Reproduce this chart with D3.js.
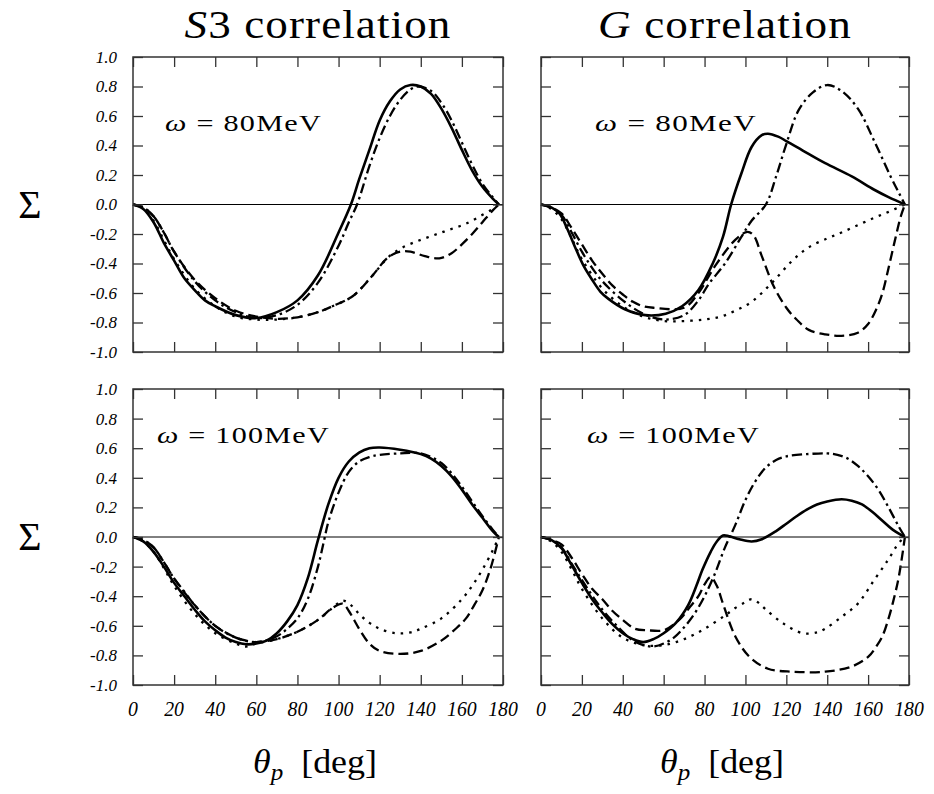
<!DOCTYPE html>
<html>
<head>
<meta charset="utf-8">
<script src="https://cdn.jsdelivr.net/npm/d3@7"></script>
<style>
  body { margin: 0; background: #fff; }
  svg { display: block; }
</style>
</head>
<body>
<div class="chart"></div>
<script>
// ---- data (theta in deg, Sigma) ----
var thetaTicks = [0, 20, 40, 60, 80, 100, 120, 140, 160, 180];
var sigmaTicks = [1.0, 0.8, 0.6, 0.4, 0.2, 0.0, -0.2, -0.4, -0.6, -0.8, -1.0];
var sigmaTickLabels = ["1.0", "0.8", "0.6", "0.4", "0.2", "0.0", "-0.2", "-0.4", "-0.6", "-0.8", "-1.0"];
var columnTitles = ["S3", "G"];
var energies = ["80", "100"];

// S3 correlation, 80 MeV
var s3_80_solid = [[0,0],[5,-0.03],[10,-0.12],[15,-0.26],[20,-0.38],[25,-0.50],[30,-0.58],[35,-0.65],[40,-0.69],[50,-0.75],[60,-0.77],[70,-0.73],[80,-0.65],[90,-0.48],[100,-0.19],[106,0],[110,0.17],[115,0.37],[120,0.57],[125,0.70],[130,0.78],[135,0.81],[140,0.80],[145,0.75],[150,0.65],[155,0.52],[160,0.37],[165,0.23],[170,0.12],[175,0.04],[178,0]];
var s3_80_dashed = [[0,0],[5,-0.02],[10,-0.08],[15,-0.19],[20,-0.32],[30,-0.51],[40,-0.635],[50,-0.72],[60,-0.76],[70,-0.775],[80,-0.765],[90,-0.73],[97,-0.69],[107,-0.62],[116,-0.49],[124,-0.36],[130,-0.32],[135,-0.32],[142,-0.35],[149,-0.365],[155,-0.33],[160,-0.27],[165,-0.20],[170,-0.12],[175,-0.04],[178,0]];
var s3_80_dashdot = [[0,0],[5,-0.02],[10,-0.08],[15,-0.19],[20,-0.32],[30,-0.52],[40,-0.65],[50,-0.73],[60,-0.77],[70,-0.75],[80,-0.68],[90,-0.53],[100,-0.28],[105,-0.12],[109,0],[115,0.26],[120,0.45],[125,0.60],[130,0.71],[135,0.78],[139,0.80],[145,0.77],[150,0.69],[155,0.57],[160,0.42],[165,0.27],[170,0.14],[175,0.05],[178,0]];
var s3_80_dotted = [[0,0],[5,-0.03],[10,-0.11],[15,-0.24],[20,-0.37],[30,-0.57],[40,-0.69],[50,-0.76],[60,-0.78],[70,-0.78],[80,-0.765],[90,-0.73],[97,-0.69],[107,-0.62],[116,-0.49],[124,-0.36],[130,-0.30],[138,-0.25],[146,-0.21],[154,-0.17],[162,-0.13],[170,-0.07],[175,-0.03],[178,0]];

// G correlation, 80 MeV
var g_80_solid = [[0,0],[5,-0.02],[9,-0.06],[13,-0.17],[17,-0.30],[21,-0.42],[25,-0.51],[29,-0.59],[33,-0.64],[41,-0.71],[51,-0.75],[61,-0.74],[69,-0.69],[77,-0.58],[84,-0.40],[89,-0.22],[93,0],[98,0.21],[103,0.39],[108,0.47],[111,0.48],[116,0.46],[120,0.43],[130,0.35],[139,0.28],[152,0.19],[163,0.10],[170,0.05],[178,0]];
var g_80_dashed = [[0,0],[5,-0.02],[10,-0.06],[15,-0.16],[20,-0.27],[25,-0.38],[30,-0.47],[35,-0.55],[40,-0.61],[45,-0.66],[50,-0.69],[55,-0.70],[70,-0.70],[77,-0.60],[85,-0.42],[95,-0.24],[101,-0.185],[104,-0.21],[108,-0.35],[114,-0.56],[120,-0.70],[125,-0.78],[131,-0.85],[139,-0.88],[147,-0.89],[155,-0.87],[160,-0.81],[164,-0.71],[167,-0.60],[170,-0.43],[173,-0.25],[176,-0.08],[178,0]];
var g_80_dashdot = [[0,0],[5,-0.02],[10,-0.07],[15,-0.19],[20,-0.32],[25,-0.43],[30,-0.52],[40,-0.65],[50,-0.74],[60,-0.78],[70,-0.75],[77,-0.65],[82,-0.54],[90,-0.40],[98,-0.22],[103,-0.11],[110,0],[115,0.19],[120,0.41],[126,0.64],[133,0.76],[140,0.81],[147,0.77],[155,0.65],[163,0.43],[171,0.19],[175,0.08],[178,0]];
var g_80_dotted = [[0,0],[5,-0.03],[10,-0.10],[15,-0.23],[20,-0.37],[30,-0.57],[40,-0.69],[50,-0.76],[60,-0.79],[70,-0.79],[80,-0.78],[88,-0.76],[95,-0.72],[103,-0.66],[113,-0.53],[123,-0.38],[131,-0.29],[140,-0.23],[147,-0.19],[155,-0.14],[163,-0.09],[170,-0.05],[178,0]];

// S3 correlation, 100 MeV
var s3_100_solid = [[0,0],[5,-0.03],[10,-0.10],[15,-0.20],[20,-0.31],[25,-0.40],[30,-0.49],[35,-0.57],[40,-0.63],[45,-0.68],[50,-0.71],[55,-0.725],[60,-0.72],[65,-0.70],[70,-0.65],[75,-0.57],[80,-0.46],[85,-0.28],[90,-0.02],[95,0.22],[100,0.40],[105,0.51],[110,0.57],[115,0.60],[120,0.605],[130,0.59],[140,0.56],[145,0.53],[150,0.48],[155,0.41],[160,0.32],[165,0.22],[170,0.13],[175,0.04],[178,0]];
var s3_100_dashed = [[0,0],[5,-0.02],[10,-0.07],[15,-0.17],[20,-0.28],[30,-0.46],[40,-0.60],[50,-0.68],[55,-0.70],[60,-0.71],[70,-0.69],[80,-0.64],[90,-0.56],[97,-0.48],[102,-0.45],[105,-0.50],[110,-0.62],[115,-0.72],[120,-0.77],[130,-0.79],[140,-0.77],[150,-0.70],[157,-0.62],[162,-0.55],[166,-0.46],[170,-0.36],[174,-0.21],[178,0]];
var s3_100_dashdot = [[0,0],[5,-0.02],[10,-0.07],[15,-0.17],[20,-0.28],[25,-0.37],[30,-0.46],[40,-0.60],[50,-0.68],[60,-0.71],[70,-0.67],[75,-0.62],[80,-0.55],[85,-0.42],[90,-0.20],[93,-0.02],[95,0.10],[100,0.30],[105,0.44],[110,0.51],[115,0.54],[120,0.555],[130,0.565],[140,0.565],[145,0.54],[150,0.50],[155,0.43],[160,0.34],[165,0.24],[170,0.14],[175,0.05],[178,0]];
var s3_100_dotted = [[0,0],[5,-0.03],[10,-0.10],[15,-0.21],[20,-0.33],[30,-0.52],[40,-0.65],[50,-0.72],[55,-0.74],[60,-0.72],[70,-0.69],[80,-0.64],[90,-0.56],[97,-0.48],[102,-0.43],[106,-0.46],[110,-0.52],[115,-0.58],[120,-0.62],[128,-0.65],[135,-0.645],[140,-0.62],[150,-0.55],[160,-0.42],[165,-0.33],[170,-0.22],[175,-0.09],[178,0]];

// G correlation, 100 MeV
var g_100_solid = [[0,0],[5,-0.02],[10,-0.075],[15,-0.19],[20,-0.31],[25,-0.42],[30,-0.51],[35,-0.59],[40,-0.65],[45,-0.69],[50,-0.71],[55,-0.69],[60,-0.65],[66,-0.58],[72,-0.46],[76,-0.33],[79,-0.22],[83,-0.10],[86,-0.03],[89,0.01],[92,0.005],[97,-0.015],[103,-0.03],[108,-0.015],[115,0.04],[120,0.09],[125,0.14],[130,0.185],[135,0.22],[140,0.24],[147,0.255],[152,0.245],[157,0.22],[162,0.17],[167,0.11],[172,0.05],[178,0]];
var g_100_dashed = [[0,0],[5,-0.02],[10,-0.05],[15,-0.14],[20,-0.25],[25,-0.35],[30,-0.42],[35,-0.50],[40,-0.56],[46,-0.62],[52,-0.63],[60,-0.63],[65,-0.59],[69,-0.54],[73,-0.47],[77,-0.40],[80,-0.32],[83,-0.27],[86,-0.33],[89,-0.45],[95,-0.67],[102,-0.81],[111,-0.89],[123,-0.91],[139,-0.91],[152,-0.875],[160,-0.81],[164,-0.74],[167,-0.67],[170,-0.55],[172,-0.45],[175,-0.27],[178,0]];
var g_100_dashdot = [[0,0],[5,-0.02],[10,-0.07],[15,-0.18],[20,-0.29],[30,-0.49],[40,-0.64],[45,-0.70],[50,-0.73],[55,-0.74],[60,-0.72],[65,-0.68],[70,-0.61],[75,-0.52],[80,-0.40],[85,-0.25],[90,-0.07],[95,0.08],[100,0.25],[105,0.38],[110,0.47],[115,0.52],[120,0.545],[130,0.56],[140,0.565],[145,0.555],[150,0.53],[155,0.48],[160,0.41],[165,0.32],[170,0.20],[175,0.07],[178,0]];
var g_100_dotted = [[0,0],[5,-0.03],[10,-0.10],[15,-0.22],[20,-0.35],[30,-0.55],[40,-0.68],[50,-0.73],[60,-0.73],[70,-0.69],[80,-0.62],[90,-0.53],[95,-0.48],[100,-0.44],[103,-0.42],[106,-0.44],[110,-0.49],[118,-0.58],[128,-0.65],[135,-0.645],[139,-0.62],[147,-0.54],[155,-0.45],[163,-0.29],[170,-0.15],[175,-0.04],[178,0]];

// ---- layout ----
var width = 934, height = 794;
var serif = "'Liberation Serif', 'Times New Roman', Times, serif";
var cols = [[133, 503], [541, 909]];
var rows = [[57, 352], [389, 685]];
var tickLen = 10;

var dashes = { solid: null, dashed: "10,5", dashdot: "10,4,2.5,4", dotted: "2.5,6" };

var panels = [
  { col: 0, row: 0, lines: { solid: s3_80_solid, dashed: s3_80_dashed, dashdot: s3_80_dashdot, dotted: s3_80_dotted }, lx: 165, lw: 157 },
  { col: 1, row: 0, lines: { solid: g_80_solid, dashed: g_80_dashed, dashdot: g_80_dashdot, dotted: g_80_dotted }, lx: 595, lw: 162 },
  { col: 0, row: 1, lines: { solid: s3_100_solid, dashed: s3_100_dashed, dashdot: s3_100_dashdot, dotted: s3_100_dotted }, lx: 157, lw: 173 },
  { col: 1, row: 1, lines: { solid: g_100_solid, dashed: g_100_dashed, dashdot: g_100_dashdot, dotted: g_100_dotted }, lx: 587, lw: 173 }
];
var labelBase = [131, 443];

var svg = d3.select(".chart").append("svg")
    .attr("width", width)
    .attr("height", height)
    .style("font-family", serif);

// stretch a text horizontally to a target width (CM glyphs are wider than Times)
function fit(sel, x, y, target, anchor) {
  sel.attr("x", 0).attr("y", 0).attr("text-anchor", anchor);
  var w = sel.node().getBBox().width;
  sel.attr("transform", "translate(" + x + "," + y + ") scale(" + (target / w) + ",1)");
}

panels.forEach(function(p) {
  var x0 = cols[p.col][0], x1 = cols[p.col][1];
  var y0 = rows[p.row][0], y1 = rows[p.row][1];

  var x = d3.scaleLinear().domain([0, 180]).range([x0, x1]);
  var y = d3.scaleLinear().domain([-1, 1]).range([y1, y0]);

  var g = svg.append("g");

  // zero line
  g.append("line")
      .attr("x1", x0).attr("x2", x1)
      .attr("y1", y(0)).attr("y2", y(0))
      .attr("stroke", "#000").attr("stroke-width", 1);

  var line = d3.line()
      .x(function(d) { return x(d[0]); })
      .y(function(d) { return y(d[1]); })
      .curve(d3.curveCatmullRom.alpha(0.5));

  ["dotted", "dashed", "dashdot", "solid"].forEach(function(k) {
    g.append("path")
        .datum(p.lines[k])
        .attr("d", line)
        .attr("fill", "none")
        .attr("stroke", "#000")
        .attr("stroke-width", k == "solid" ? 2.6 : 2.3)
        .attr("stroke-dasharray", dashes[k]);
  });

  // inward ticks on all four sides
  var axes = [
    [d3.axisBottom(x).tickValues(thetaTicks), "translate(0," + y1 + ")"],
    [d3.axisTop(x).tickValues(thetaTicks), "translate(0," + y0 + ")"],
    [d3.axisLeft(y).tickValues(sigmaTicks), "translate(" + x0 + ",0)"],
    [d3.axisRight(y).tickValues(sigmaTicks), "translate(" + x1 + ",0)"]
  ];
  axes.forEach(function(a) {
    var ag = g.append("g")
        .attr("transform", a[1])
        .call(a[0].tickSize(-tickLen).tickFormat(""));
    ag.select(".domain").remove();
    ag.selectAll("line").attr("stroke", "#333").attr("stroke-width", 1.3);
  });

  g.append("rect")
      .attr("x", x0).attr("y", y0)
      .attr("width", x1 - x0).attr("height", y1 - y0)
      .attr("fill", "none")
      .attr("stroke", "#333").attr("stroke-width", 1.5);

  // tick labels
  if (p.col == 0) {
    var yl = g.append("g")
        .attr("transform", "translate(" + x0 + ",0)")
        .call(d3.axisLeft(y).tickValues(sigmaTicks).tickSize(0).tickPadding(16)
          .tickFormat(function(d, i) { return sigmaTickLabels[i]; }));
    yl.select(".domain").remove();
    yl.selectAll("text")
        .style("font-family", serif)
        .style("font-style", "italic")
        .style("font-size", "17px");
  }
  if (p.row == 1) {
    var xl = g.append("g")
        .attr("transform", "translate(0," + y1 + ")")
        .call(d3.axisBottom(x).tickValues(thetaTicks).tickSize(0).tickPadding(15));
    xl.select(".domain").remove();
    xl.selectAll("text")
        .style("font-family", serif)
        .style("font-style", "italic")
        .style("font-size", "22px")
        .attr("transform", "scale(0.9,1)")
        .attr("x", function(d) { return x(d) / 0.9; });
    xl.selectAll(".tick").attr("transform", null);
  }

  // energy label
  var t = svg.append("text").style("font-size", "24px").style("letter-spacing", "1px");
  t.append("tspan").style("font-style", "italic").text("ω");
  t.append("tspan").text(" = " + energies[p.row] + "MeV");
  fit(t, p.lx, labelBase[p.row], p.lw, "start");
});

// column titles and x labels
cols.forEach(function(c, i) {
  var cx = (c[0] + c[1]) / 2;
  var t = svg.append("text").style("font-size", "40px").style("letter-spacing", "1px");
  t.append("tspan").style("font-style", "italic").text(columnTitles[i] == "S3" ? "S" : "G");
  t.append("tspan").text((columnTitles[i] == "S3" ? "3" : "") + " correlation");
  fit(t, cx, 38, columnTitles[i] == "S3" ? 267 : 254, "middle");

  var xt = svg.append("text").style("font-size", "33px");
  xt.append("tspan").style("font-style", "italic").text("θ");
  xt.append("tspan").style("font-style", "italic").style("font-size", "23px").attr("dy", 7).text("p");
  xt.append("tspan").attr("dy", -7).text("\u2002[deg]");
  fit(xt, cx - 3, 773, 124, "middle");
});

// Sigma labels
rows.forEach(function(r) {
  svg.append("text")
      .attr("x", 30)
      .attr("y", (r[0] + r[1]) / 2 + 13)
      .attr("text-anchor", "middle")
      .style("font-size", "40px")
      .text("Σ");
});
</script>
</body>
</html>
